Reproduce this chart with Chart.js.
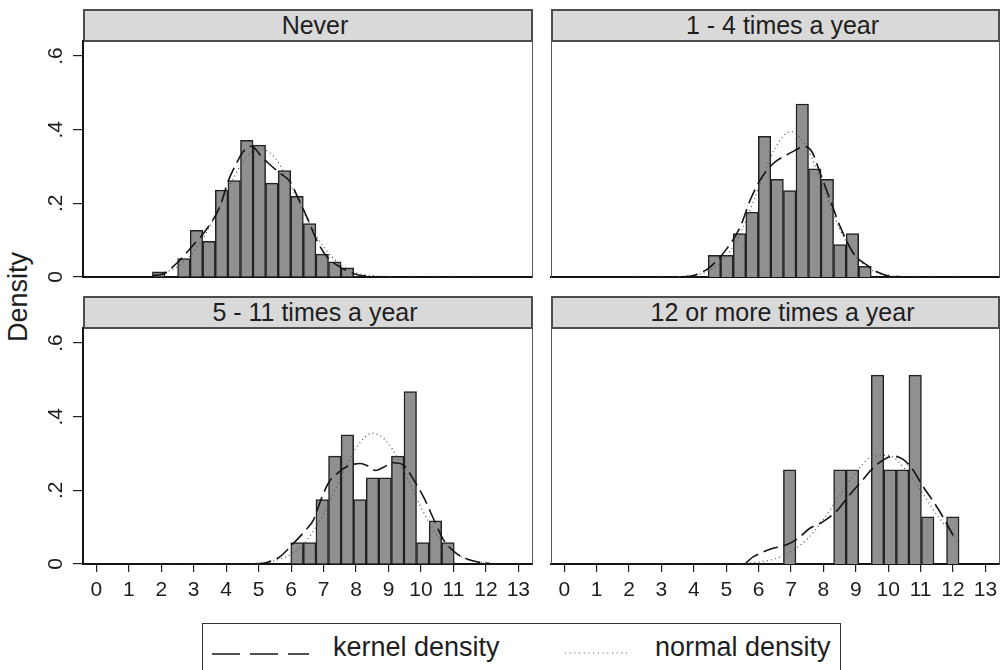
<!DOCTYPE html>
<html>
<head>
<meta charset="utf-8">
<script src="https://cdn.jsdelivr.net/npm/chart.js@4.4.1/dist/chart.umd.min.js"></script>
<style>
  html, body { margin:0; padding:0; background:#fff; }
  body { width:1006px; height:670px; overflow:hidden; position:relative;
         font-family:"Liberation Sans", Arial, Helvetica, sans-serif; color:#222; }
  canvas { position:absolute; left:0; top:0; }
  .frame { position:absolute; box-sizing:border-box; border:1px solid #5a5a5a; }
  .hdr { position:absolute; box-sizing:border-box; background:#d9d9d9; border:2px solid #4d4d4d;
         text-align:center; font-size:25px; line-height:25px; color:#1e1e1e; padding-left:14px; white-space:nowrap; }
  .ytitle { position:absolute; left:18px; top:297px; transform:translate(-50%,-50%) rotate(-90deg);
            font-size:27px; line-height:27px; white-space:nowrap; color:#1e1e1e; }
  .legend { position:absolute; left:202px; top:623px; width:639px; height:70px; box-sizing:border-box;
            border:1.5px solid #333; border-bottom:none; }
  .ltext { position:absolute; font-size:27px; line-height:27px; white-space:nowrap; color:#1e1e1e; }
</style>
</head>
<body>
<div id="frames"></div>
<div class="ytitle">Density</div>
<div class="legend"></div>
<svg width="1006" height="670" style="position:absolute;left:0;top:0;pointer-events:none">
  <line x1="212" y1="654" x2="309" y2="654" stroke="#1a1a1a" stroke-width="1.6" stroke-dasharray="28 10"/>
  <line x1="565" y1="653" x2="631" y2="653" stroke="#555" stroke-width="1.2" stroke-dasharray="1 3.7"/>
</svg>
<div class="ltext" style="left:333px;top:634px">kernel density</div>
<div class="ltext" style="left:655px;top:634px">normal density</div>

<script>
// ---------------- data ----------------
const panelTitles = ["Never", "1 - 4 times a year", "5 - 11 times a year", "12 or more times a year"];

const xTickValues = [0,1,2,3,4,5,6,7,8,9,10,11,12,13];
const xTickLabels = ["0","1","2","3","4","5","6","7","8","9","10","11","12","13"];
const yTickValues = [0, 0.2, 0.4, 0.6];
const yTickLabels = ["0", ".2", ".4", ".6"];

// Panel 1: Never — histogram (bin midpoints, density)
const neverBinX    = [1.922, 2.697, 3.084, 3.472, 3.859, 4.246, 4.634, 5.021, 5.409, 5.796, 6.183, 6.571, 6.958, 7.346, 7.733];
const neverDensity = [0.014, 0.050, 0.127, 0.097, 0.236, 0.262, 0.371, 0.358, 0.255, 0.289, 0.219, 0.145, 0.062, 0.041, 0.025];
const neverKernelX = [1.73, 2.06, 2.46, 2.67, 2.98, 3.39, 3.80, 4.06, 4.32, 4.52, 4.78, 5.09, 5.30, 5.66, 5.97, 6.17, 6.48, 6.79, 7.10, 7.51, 8.02, 8.43, 9.0, 10.0, 11.0, 12.12];
const neverKernelY = [0.004, 0.008, 0.036, 0.055, 0.086, 0.129, 0.190, 0.260, 0.309, 0.340, 0.355, 0.327, 0.309, 0.282, 0.259, 0.223, 0.164, 0.100, 0.055, 0.027, 0.007, 0.002, 0, 0, 0, 0];
const neverNormalX = [1.73, 2.0, 2.5, 3.0, 3.5, 4.0, 4.5, 5.0, 5.5, 6.0, 6.5, 7.0, 7.5, 8.0, 8.5, 9.0, 10.0, 11.0, 12.12];
const neverNormalY = [0.005, 0.010, 0.028, 0.068, 0.138, 0.228, 0.310, 0.349, 0.324, 0.247, 0.156, 0.082, 0.035, 0.012, 0.004, 0.001, 0, 0, 0];

// Panel 2: 1 - 4 times a year
const p14BinX    = [4.634, 5.021, 5.409, 5.796, 6.183, 6.571, 6.958, 7.346, 7.733, 8.120, 8.508, 8.895, 9.283];
const p14Density = [0.059, 0.059, 0.118, 0.176, 0.382, 0.265, 0.235, 0.470, 0.294, 0.265, 0.088, 0.118, 0.029];
const p14KernelX = [1.72, 3.0, 3.78, 4.09, 4.50, 5.02, 5.43, 5.74, 6.05, 6.46, 6.87, 7.15, 7.38, 7.64, 7.90, 8.21, 8.52, 8.93, 9.35, 9.70, 10.07, 11.0, 12.12];
const p14KernelY = [0, 0, 0.001, 0.007, 0.027, 0.077, 0.136, 0.209, 0.264, 0.309, 0.332, 0.345, 0.355, 0.341, 0.282, 0.209, 0.136, 0.064, 0.032, 0.012, 0.002, 0, 0];
const p14NormalX = [1.72, 3.0, 3.5, 4.0, 4.5, 5.0, 5.5, 6.0, 6.5, 7.0, 7.5, 8.0, 8.5, 9.0, 9.5, 10.0, 10.5, 11.0, 12.12];
const p14NormalY = [0, 0, 0.001, 0.005, 0.018, 0.056, 0.131, 0.242, 0.349, 0.395, 0.349, 0.242, 0.131, 0.056, 0.018, 0.005, 0.001, 0, 0];

// Panel 3: 5 - 11 times a year
const p511BinX    = [6.183, 6.571, 6.958, 7.346, 7.733, 8.120, 8.508, 8.895, 9.283, 9.670, 10.057, 10.445, 10.832];
const p511Density = [0.058, 0.058, 0.175, 0.293, 0.351, 0.175, 0.234, 0.234, 0.293, 0.468, 0.058, 0.117, 0.058];
const p511KernelX = [1.70, 4.0, 5.04, 5.25, 5.66, 6.07, 6.48, 6.69, 6.90, 7.15, 7.46, 7.72, 8.13, 8.35, 8.60, 8.85, 9.16, 9.47, 9.78, 10.09, 10.40, 10.70, 11.12, 11.63, 12.12];
const p511KernelY = [0, 0, 0.001, 0.004, 0.020, 0.056, 0.095, 0.120, 0.170, 0.220, 0.249, 0.265, 0.273, 0.267, 0.254, 0.263, 0.275, 0.268, 0.228, 0.180, 0.120, 0.065, 0.027, 0.008, 0.001];
const p511NormalX = [1.70, 4.5, 5.0, 5.5, 6.0, 6.5, 7.0, 7.5, 8.0, 8.5, 9.0, 9.5, 10.0, 10.5, 11.0, 11.5, 12.12];
const p511NormalY = [0, 0, 0.002, 0.009, 0.027, 0.066, 0.136, 0.229, 0.315, 0.355, 0.327, 0.248, 0.154, 0.078, 0.033, 0.011, 0.002];

// Panel 4: 12 or more times a year
const p12BinX    = [6.958, 8.508, 8.895, 9.670, 10.057, 10.445, 10.832, 11.220, 11.994];
const p12Density = [0.256, 0.256, 0.256, 0.513, 0.256, 0.256, 0.513, 0.128, 0.128];
const p12KernelX = [1.72, 4.0, 5.53, 5.84, 6.35, 6.86, 7.22, 7.58, 7.99, 8.40, 8.81, 9.22, 9.53, 9.79, 10.15, 10.46, 10.76, 11.07, 11.43, 11.74, 12.10];
const p12KernelY = [0, 0, 0.001, 0.020, 0.040, 0.052, 0.070, 0.097, 0.115, 0.143, 0.188, 0.229, 0.261, 0.279, 0.293, 0.284, 0.256, 0.211, 0.165, 0.120, 0.062];
const p12NormalX = [1.72, 5.0, 5.5, 6.0, 6.5, 7.0, 7.5, 8.0, 8.5, 9.0, 9.5, 10.0, 10.5, 11.0, 11.5, 12.10];
const p12NormalY = [0, 0, 0.002, 0.005, 0.014, 0.034, 0.068, 0.121, 0.186, 0.249, 0.291, 0.295, 0.260, 0.200, 0.134, 0.068];

// ---------------- layout (page geometry) ----------------
const W = 1006, H = 670;
const COLS = { left: { l: 83, r: 532 }, right: { l: 551, r: 999 } };
const ROWS = { top: { hdr: 9, t: 41, b: 277 }, bottom: { hdr: 296, t: 328, b: 564 } };
const X_MIN = -0.41, X_MAX = 13.42, Y_MIN = 0, Y_MAX = 0.641;
const FONT = '"Liberation Sans", Arial, Helvetica, sans-serif';

Chart.defaults.font.family = FONT;
Chart.defaults.animation = false;

const panels = [
  { title: panelTitles[0], col: 'left',  row: 'top',    bx: neverBinX, by: neverDensity, kx: neverKernelX, ky: neverKernelY, nx: neverNormalX, ny: neverNormalY },
  { title: panelTitles[1], col: 'right', row: 'top',    bx: p14BinX,   by: p14Density,   kx: p14KernelX,   ky: p14KernelY,   nx: p14NormalX,   ny: p14NormalY },
  { title: panelTitles[2], col: 'left',  row: 'bottom', bx: p511BinX,  by: p511Density,  kx: p511KernelX,  ky: p511KernelY,  nx: p511NormalX,  ny: p511NormalY },
  { title: panelTitles[3], col: 'right', row: 'bottom', bx: p12BinX,   by: p12Density,   kx: p12KernelX,   ky: p12KernelY,   nx: p12NormalX,   ny: p12NormalY }
];

const frames = document.getElementById('frames');

panels.forEach((p, idx) => {
  const c = COLS[p.col], r = ROWS[p.row];
  const showY = p.col === 'left';
  const showX = p.row === 'bottom';

  const fr = document.createElement('div');
  fr.className = 'frame';
  fr.style.left = c.l + 'px'; fr.style.top = r.t + 'px';
  fr.style.width = (c.r - c.l + 1) + 'px'; fr.style.height = (r.b - r.t + 1) + 'px';
  frames.appendChild(fr);

  const hd = document.createElement('div');
  hd.className = 'hdr';
  hd.style.left = c.l + 'px'; hd.style.top = r.hdr + 'px';
  hd.style.width = (c.r - c.l + 1) + 'px'; hd.style.height = (r.t - r.hdr + 1) + 'px';
  hd.style.paddingTop = '2px';
  hd.textContent = p.title;
  document.body.appendChild(hd);

  const cv = document.createElement('canvas');
  cv.width = W; cv.height = H;
  document.body.appendChild(cv);

  new Chart(cv, {
    type: 'bar',
    data: {
      datasets: [
        { type: 'line', label: 'kernel density',
          data: p.kx.map((x, i) => ({ x: x, y: p.ky[i] })),
          borderColor: '#151515', borderWidth: 1.6, borderDash: [15, 6],
          pointRadius: 0, fill: false, cubicInterpolationMode: 'monotone', order: 0 },
        { type: 'line', label: 'normal density',
          data: p.nx.map((x, i) => ({ x: x, y: p.ny[i] })),
          borderColor: '#555', borderWidth: 1.2, borderDash: [1, 3.2],
          pointRadius: 0, fill: false, cubicInterpolationMode: 'monotone', order: 1 },
        { type: 'bar', label: 'density',
          data: p.bx.map((x, i) => ({ x: x, y: p.by[i] })),
          backgroundColor: '#909090', borderColor: '#222', borderWidth: 1.5,
          barPercentage: 1, categoryPercentage: 1, order: 2 }
      ]
    },
    options: {
      responsive: false,
      animation: false,
      events: [],
      layout: { padding: { left: 0, top: r.t, right: W - c.r, bottom: 0 } },
      plugins: { legend: { display: false }, tooltip: { enabled: false }, title: { display: false } },
      scales: {
        x: {
          type: 'linear', min: X_MIN, max: X_MAX, offset: false,
          afterBuildTicks: s => { s.ticks = xTickValues.map(v => ({ value: v })); },
          afterFit: s => { s.height = H - r.b; },
          ticks: {
            display: showX, autoSkip: false, minRotation: 0, maxRotation: 0,
            callback: v => xTickLabels[xTickValues.indexOf(v)],
            font: { size: 21, family: FONT }, color: '#1e1e1e', padding: 6
          },
          grid: { display: showX, offset: false, drawOnChartArea: false, drawTicks: true, tickLength: 8, color: '#222', lineWidth: 1.2 },
          border: { display: true, color: '#151515', width: 2 }
        },
        y: {
          type: 'linear', min: Y_MIN, max: Y_MAX,
          afterBuildTicks: s => { s.ticks = yTickValues.map(v => ({ value: v })); },
          afterFit: s => { s.width = c.l; },
          ticks: {
            display: showY, minRotation: 90, maxRotation: 90, crossAlign: 'center',
            callback: v => yTickLabels[yTickValues.indexOf(v)],
            font: { size: 21, family: FONT }, color: '#1e1e1e', padding: 8
          },
          grid: { display: showY, drawOnChartArea: false, drawTicks: true, tickLength: 10, color: '#222', lineWidth: 1.2 },
          border: { display: true, color: showY ? '#151515' : '#5a5a5a', width: showY ? 2 : 1 }
        }
      }
    }
  });
});
</script>
</body>
</html>
